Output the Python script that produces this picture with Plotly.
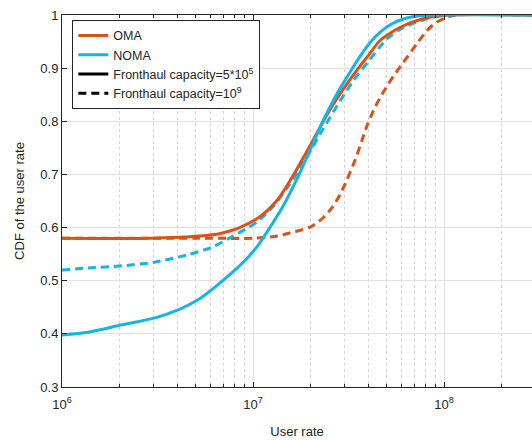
import plotly.graph_objects as go

# ---- data ----
oma_solid_x = [1.0e6, 2.88e6, 5.25e6, 6.76e6, 8.51e6, 1.10e7, 1.34e7, 1.56e7, 1.76e7, 2.16e7,
               2.53e7, 2.96e7, 3.51e7, 3.98e7, 4.62e7, 5.89e7, 7.76e7, 1.04e8, 3.0e8]
oma_solid_y = [0.580, 0.580, 0.584, 0.589, 0.600, 0.622, 0.652, 0.688, 0.720, 0.778,
               0.822, 0.860, 0.897, 0.922, 0.952, 0.977, 0.993, 1.0, 1.0]

oma_dash_x = [1.0e6, 5.0e6, 1.0e7, 1.34e7, 1.56e7, 1.99e7, 2.32e7, 2.62e7, 2.88e7, 3.10e7,
              3.42e7, 3.72e7, 3.98e7, 4.37e7, 4.90e7, 5.43e7, 6.10e7, 7.23e7, 8.15e7, 9.18e7,
              1.04e8, 1.17e8, 3.0e8]
oma_dash_y = [0.580, 0.580, 0.580, 0.584, 0.590, 0.601, 0.618, 0.640, 0.665, 0.690,
              0.727, 0.765, 0.795, 0.828, 0.860, 0.885, 0.910, 0.947, 0.971, 0.987,
              0.996, 1.0, 1.0]

noma_solid_x = [1.0e6, 1.37e6, 2.06e6, 3.07e6, 4.05e6, 5.15e6, 6.32e6, 7.76e6, 9.23e6, 1.05e7,
                1.18e7, 1.44e7, 1.70e7, 2.0e7, 2.34e7, 2.75e7, 3.24e7, 3.63e7, 4.07e7, 4.68e7,
                5.25e7, 6.17e7, 7.24e7, 8.91e7, 3.0e8]
noma_solid_y = [0.398, 0.403, 0.417, 0.430, 0.445, 0.464, 0.488, 0.515, 0.541, 0.564,
                0.591, 0.641, 0.692, 0.748, 0.803, 0.852, 0.894, 0.922, 0.947, 0.969,
                0.982, 0.993, 0.998, 1.0, 1.0]

noma_dash_x = [1.0e6, 1.37e6, 2.06e6, 3.07e6, 4.57e6, 6.10e6, 7.76e6, 9.42e6, 1.05e7, 1.27e7,
               1.56e7, 1.78e7, 2.0e7, 2.32e7, 2.85e7, 3.34e7, 3.98e7, 5.01e7, 6.10e7, 8.15e7,
               1.05e8, 3.0e8]
noma_dash_y = [0.520, 0.524, 0.528, 0.535, 0.549, 0.563, 0.583, 0.600, 0.611, 0.639,
               0.682, 0.714, 0.745, 0.785, 0.838, 0.876, 0.911, 0.955, 0.976, 0.993,
               1.0, 1.0]

x_major = [1e6, 1e7, 1e8]
x_major_text = ["10<sup>6</sup>", "10<sup>7</sup>", "10<sup>8</sup>"]
x_minor = [m * d for d in (1e6, 1e7, 1e8) for m in range(2, 10)]
y_ticks = [0.3, 0.4, 0.5, 0.6, 0.7, 0.8, 0.9, 1.0]
y_labels = ["0.3", "0.4", "0.5", "0.6", "0.7", "0.8", "0.9", "1"]

ORANGE = "#D95319"
CYAN = "#16B4E6"
INK = "#262626"
FONT = "Arial, Liberation Sans, Helvetica, sans-serif"
DASH = "8px,5px"

fig = go.Figure()
fig.add_trace(go.Scatter(x=oma_dash_x, y=oma_dash_y, mode="lines", showlegend=False,
                         line=dict(color=ORANGE, width=3, dash=DASH, shape="spline", smoothing=0.7)))
fig.add_trace(go.Scatter(x=noma_dash_x, y=noma_dash_y, mode="lines", showlegend=False,
                         line=dict(color=CYAN, width=3, dash=DASH, shape="spline", smoothing=0.7)))
fig.add_trace(go.Scatter(x=oma_solid_x, y=oma_solid_y, mode="lines", name="OMA",
                         line=dict(color=ORANGE, width=3, shape="spline", smoothing=0.7)))
fig.add_trace(go.Scatter(x=noma_solid_x, y=noma_solid_y, mode="lines", name="NOMA",
                         line=dict(color=CYAN, width=3, shape="spline", smoothing=0.7)))
fig.add_trace(go.Scatter(x=[None], y=[None], mode="lines",
                         name="Fronthaul capacity=5*10<sup>5</sup>",
                         line=dict(color="black", width=3)))
fig.add_trace(go.Scatter(x=[None], y=[None], mode="lines",
                         name="Fronthaul capacity=10<sup>9</sup>",
                         line=dict(color="black", width=3, dash=DASH)))

fig.update_layout(
    width=532, height=440,
    margin=dict(l=62, r=0, t=15, b=53),
    paper_bgcolor="white", plot_bgcolor="white",
    font=dict(family=FONT, size=13, color=INK),
    legend=dict(x=0.022, y=0.9866, xanchor="left", yanchor="top",
                bgcolor="white", bordercolor=INK, borderwidth=1,
                font=dict(size=12.5, color=INK), tracegroupgap=0,
                itemwidth=30),
)
fig.update_xaxes(
    type="log", range=[6, 8.46], automargin=False,
    tickmode="array", tickvals=x_major, ticktext=x_major_text,
    ticks="inside", ticklen=5, tickcolor=INK, ticklabelstandoff=5,
    showgrid=True, gridcolor="#E3E3E3", gridwidth=1,
    minor=dict(tickmode="array", tickvals=x_minor, ticks="inside", ticklen=3,
               tickcolor=INK, showgrid=True, gridcolor="#D5D5D5", griddash="dot", gridwidth=1),
    showline=True, linecolor=INK, linewidth=1, mirror="ticks",
    zeroline=False,
    title=dict(text="User rate", font=dict(size=13, color=INK), standoff=16),
    tickfont=dict(size=13, color=INK),
)
fig.update_yaxes(
    range=[0.3, 1.0], automargin=False,
    tickmode="array", tickvals=y_ticks, ticktext=y_labels,
    ticks="inside", ticklen=5, tickcolor=INK,
    showgrid=True, gridcolor="#E3E3E3", gridwidth=1,
    showline=True, linecolor=INK, linewidth=1, mirror=False,
    zeroline=False,
    title=dict(text="CDF of the user rate", font=dict(size=13, color=INK), standoff=12),
    tickfont=dict(size=13, color=INK),
)

fig.write_html("out.html", config={"displayModeBar": False},
               post_script="document.body.style.margin='0';document.body.style.overflow='hidden';")
